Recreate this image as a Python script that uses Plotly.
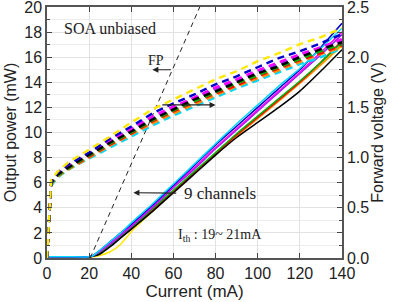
import plotly.graph_objects as go

# ---- data ----
channel_colors = ["#FFE800", "#FF8C00", "#FF0000", "#00B000", "#000000",
                  "#8A2BE2", "#FF00FF", "#0000CC", "#00D8FF"]

current_li = [0, 10, 20, 22, 25, 30, 35, 40, 50, 60, 70, 80, 90, 100, 110, 120, 130, 140]
power_yellow = [0.1, 0.1, 0.1, 0.1, 0.2, 0.5, 1.1, 2.1, 3.7, 5.3, 6.8, 8.3, 9.8, 11.2, 12.6, 14.0, 15.4, 16.9]
power_orange = [0.1, 0.1, 0.1, 0.15, 0.4, 1.0, 1.7, 2.4, 3.8, 5.3, 6.8, 8.3, 9.7, 11.1, 12.5, 13.9, 15.4, 17.0]
power_red = [0.1, 0.1, 0.1, 0.15, 0.4, 1.0, 1.7, 2.3, 3.8, 5.3, 6.8, 8.3, 9.8, 11.2, 12.6, 14.0, 15.6, 17.3]
power_green = [0.1, 0.1, 0.1, 0.15, 0.4, 1.0, 1.7, 2.4, 3.9, 5.4, 6.9, 8.4, 9.9, 11.3, 12.7, 14.1, 15.6, 17.2]
power_black = [0.1, 0.1, 0.1, 0.15, 0.3, 0.9, 1.6, 2.3, 3.7, 5.2, 6.7, 8.2, 9.6, 10.8, 12.0, 13.3, 14.9, 16.6]
power_violet = [0.1, 0.1, 0.1, 0.2, 0.5, 1.1, 1.8, 2.5, 4.0, 5.6, 7.1, 8.7, 10.2, 11.7, 13.2, 14.7, 16.2, 17.8]
power_magenta = [0.1, 0.1, 0.1, 0.2, 0.5, 1.2, 1.9, 2.6, 4.1, 5.7, 7.2, 8.8, 10.3, 11.8, 13.3, 14.8, 16.4, 18.0]
power_blue = [0.1, 0.1, 0.1, 0.2, 0.6, 1.3, 2.0, 2.7, 4.2, 5.8, 7.4, 9.0, 10.5, 12.0, 13.5, 15.0, 16.8, 18.7]
power_cyan = [0.1, 0.1, 0.1, 0.2, 0.6, 1.3, 2.0, 2.8, 4.3, 5.9, 7.5, 9.1, 10.7, 12.2, 13.7, 15.1, 16.7, 18.3]

current_vi = [0, 1, 2, 5, 10, 20, 30, 40, 50, 60, 70, 80, 90, 100, 110, 120, 130, 140]
volt_yellow = [0, 0.38, 0.78, 0.86, 0.95, 1.08, 1.21, 1.35, 1.48, 1.58, 1.68, 1.78, 1.86, 1.96, 2.04, 2.13, 2.20, 2.29]
volt_orange = [0, 0.36, 0.73, 0.81, 0.88, 1.00, 1.12, 1.23, 1.34, 1.44, 1.53, 1.62, 1.71, 1.79, 1.87, 1.95, 2.03, 2.10]
volt_red = [0, 0.37, 0.74, 0.82, 0.89, 1.01, 1.13, 1.24, 1.36, 1.46, 1.55, 1.64, 1.72, 1.81, 1.89, 1.97, 2.04, 2.12]
volt_green = [0, 0.37, 0.74, 0.82, 0.89, 1.02, 1.14, 1.25, 1.37, 1.47, 1.56, 1.65, 1.74, 1.82, 1.90, 1.98, 2.06, 2.13]
volt_black = [0, 0.37, 0.75, 0.83, 0.90, 1.03, 1.15, 1.26, 1.38, 1.48, 1.58, 1.66, 1.75, 1.84, 1.91, 2.00, 2.08, 2.15]
volt_violet = [0, 0.37, 0.75, 0.83, 0.91, 1.03, 1.16, 1.28, 1.39, 1.49, 1.59, 1.68, 1.76, 1.85, 1.93, 2.01, 2.08, 2.16]
volt_magenta = [0, 0.37, 0.75, 0.84, 0.92, 1.04, 1.17, 1.29, 1.41, 1.51, 1.60, 1.70, 1.78, 1.87, 1.95, 2.03, 2.10, 2.18]
volt_blue = [0, 0.38, 0.76, 0.85, 0.93, 1.05, 1.19, 1.31, 1.44, 1.54, 1.63, 1.73, 1.81, 1.90, 1.99, 2.06, 2.14, 2.23]
volt_cyan = [0, 0.36, 0.72, 0.80, 0.88, 0.99, 1.10, 1.21, 1.32, 1.42, 1.51, 1.60, 1.69, 1.77, 1.85, 1.93, 2.00, 2.09]

fp_current = [20.5, 72.5]
fp_power = [0, 20]

power_sets = [power_yellow, power_orange, power_red, power_green, power_black,
              power_violet, power_magenta, power_blue, power_cyan]
volt_sets = [volt_cyan, volt_orange, volt_red, volt_violet, volt_magenta,
             volt_green, volt_black, volt_blue, volt_yellow]
volt_colors = ["#00D8FF", "#FF8C00", "#FF0000", "#8A2BE2", "#FF00FF",
               "#00B000", "#000000", "#0000CC", "#FFE800"]

fig = go.Figure()

# V-I dashed curves (right axis)
for vals, col in zip(volt_sets, volt_colors):
    fig.add_trace(go.Scatter(x=current_vi, y=vals, mode="lines", yaxis="y2",
                             line=dict(color=col, width=2.4, dash="7px,5px"),
                             showlegend=False, hoverinfo="skip"))

# L-I solid curves (left axis)
for vals, col in zip(power_sets, channel_colors):
    fig.add_trace(go.Scatter(x=current_li, y=vals, mode="lines",
                             line=dict(color=col, width=1.5, shape="spline", smoothing=0.6),
                             showlegend=False, hoverinfo="skip"))

# FP reference
fig.add_trace(go.Scatter(x=fp_current, y=fp_power, mode="lines",
                         line=dict(color="#222222", width=1, dash="5px,4px"),
                         showlegend=False, hoverinfo="skip"))

serif = "Liberation Serif"
sans = "Liberation Sans"

annotations = [
    dict(x=30, y=18.3, text="SOA unbiased", showarrow=False,
         font=dict(family=serif, size=16, color="#222")),
    dict(x=51.5, y=15.7, text="FP", showarrow=False,
         font=dict(family=serif, size=14, color="#222")),
    dict(x=50, y=15.0, ax=59.5, ay=15.0, xref="x", yref="y", axref="x", ayref="y",
         text="", showarrow=True, arrowhead=2, arrowsize=1, arrowwidth=1.2, arrowcolor="#222"),
    dict(x=80, y=12.2, ax=54, ay=12.2, xref="x", yref="y", axref="x", ayref="y",
         text="", showarrow=True, arrowhead=2, arrowsize=1, arrowwidth=1.2, arrowcolor="#222"),
    dict(x=41, y=5.2, ax=82, ay=5.15, xref="x", yref="y", axref="x", ayref="y",
         text="9 channels", showarrow=True, arrowhead=2, arrowsize=1, arrowwidth=1.2,
         startstandoff=6, arrowcolor="#222", font=dict(family=serif, size=17, color="#222")),
    dict(x=82, y=1.8, text="I<sub>th</sub> : 19~ 21mA", showarrow=False,
         font=dict(family=serif, size=14, color="#222")),
]

axis_line = "#555555"
grid = "#e2e2e2"

fig.update_layout(
    width=396, height=302,
    margin=dict(l=47, r=54, t=7, b=44),
    paper_bgcolor="white", plot_bgcolor="white",
    annotations=annotations,
    xaxis=dict(range=[0, 140], dtick=20, tick0=0, ticks="inside", ticklen=5,
               showline=True, linecolor=axis_line, linewidth=1.5, mirror="ticks",
               showgrid=True, gridcolor=grid, gridwidth=1, zeroline=False, automargin=False,
               ticklabeloverflow="allow",
               tickfont=dict(family=sans, size=16, color="#222"),
               title=dict(text="Current (mA)", font=dict(family=sans, size=17, color="#222"), standoff=0)),
    yaxis=dict(range=[0, 20], dtick=2, tick0=0, ticks="inside", ticklen=5,
               showline=True, linecolor=axis_line, linewidth=1.5, mirror="ticks",
               showgrid=True, gridcolor=grid, gridwidth=1, zeroline=False, automargin=False,
               ticklabeloverflow="allow",
               minor=dict(dtick=1, ticks="inside", ticklen=3, showgrid=True, gridcolor="#ececec"),
               tickfont=dict(family=sans, size=16, color="#222"),
               title=dict(text="Output power (mW)", font=dict(family=sans, size=16, color="#222"), standoff=4)),
    yaxis2=dict(range=[0, 2.5], dtick=0.5, tick0=0, ticks="inside", ticklen=5,
                overlaying="y", side="right", showline=True, linecolor=axis_line, linewidth=1.5,
                showgrid=False, zeroline=False, tickformat=".1f", automargin=False,
                ticklabeloverflow="allow",
                minor=dict(dtick=0.25, ticks="inside", ticklen=4),
                tickfont=dict(family=sans, size=16, color="#222"),
                title=dict(text="Forward voltage (V)", font=dict(family=sans, size=16, color="#222"), standoff=4)),
)

fig.write_html("out.html")
